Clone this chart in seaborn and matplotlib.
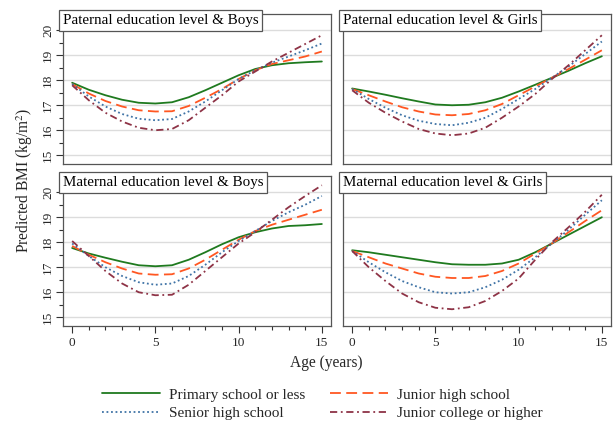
import numpy as np
import pandas as pd
import matplotlib
matplotlib.use("Agg")
import matplotlib.pyplot as plt
import seaborn as sns

# Edades 0-15 y niveles educativos
ages = list(range(16))
levels = ["Primary school or less", "Junior high school",
          "Senior high school", "Junior college or higher"]
panels = ["Paternal education level & Boys", "Paternal education level & Girls",
          "Maternal education level & Boys", "Maternal education level & Girls"]

# Valores (BMI predicho)
pat_boys = {
    "Primary school or less": [17.9, 17.62, 17.4, 17.22, 17.1, 17.07, 17.12, 17.32, 17.6, 17.9, 18.2, 18.45, 18.6, 18.68, 18.72, 18.75],
    "Junior high school": [17.85, 17.47, 17.17, 16.95, 16.8, 16.75, 16.76, 16.97, 17.3, 17.65, 18.05, 18.4, 18.65, 18.8, 18.95, 19.15],
    "Senior high school": [17.85, 17.35, 16.95, 16.65, 16.46, 16.4, 16.45, 16.75, 17.15, 17.6, 18.05, 18.4, 18.7, 18.95, 19.2, 19.47],
    "Junior college or higher": [17.8, 17.2, 16.7, 16.35, 16.1, 16.0, 16.05, 16.4, 16.9, 17.4, 17.95, 18.35, 18.75, 19.1, 19.45, 19.8],
}
pat_girls = {
    "Primary school or less": [17.67, 17.55, 17.42, 17.28, 17.15, 17.03, 17.0, 17.02, 17.12, 17.3, 17.55, 17.82, 18.1, 18.38, 18.68, 18.96],
    "Junior high school": [17.65, 17.4, 17.15, 16.92, 16.75, 16.63, 16.6, 16.65, 16.8, 17.05, 17.4, 17.75, 18.1, 18.45, 18.82, 19.2],
    "Senior high school": [17.65, 17.25, 16.9, 16.6, 16.38, 16.25, 16.2, 16.3, 16.5, 16.85, 17.25, 17.65, 18.1, 18.55, 19.05, 19.55],
    "Junior college or higher": [17.6, 17.1, 16.7, 16.35, 16.05, 15.87, 15.8, 15.87, 16.1, 16.5, 16.95, 17.45, 18.05, 18.6, 19.2, 19.8],
}
mat_boys = {
    "Primary school or less": [17.77, 17.55, 17.38, 17.22, 17.08, 17.04, 17.08, 17.3, 17.6, 17.92, 18.2, 18.4, 18.55, 18.65, 18.68, 18.73],
    "Junior high school": [17.85, 17.5, 17.2, 16.95, 16.75, 16.7, 16.72, 16.95, 17.3, 17.7, 18.1, 18.45, 18.7, 18.9, 19.1, 19.3],
    "Senior high school": [17.95, 17.45, 17.0, 16.65, 16.4, 16.3, 16.35, 16.65, 17.1, 17.6, 18.05, 18.45, 18.85, 19.2, 19.5, 19.85],
    "Junior college or higher": [18.05, 17.45, 16.85, 16.35, 16.0, 15.88, 15.9, 16.3, 16.85, 17.4, 17.95, 18.4, 18.9, 19.4, 19.85, 20.28],
}
mat_girls = {
    "Primary school or less": [17.68, 17.6, 17.5, 17.4, 17.3, 17.2, 17.12, 17.1, 17.1, 17.15, 17.3, 17.6, 17.95, 18.3, 18.65, 19.0],
    "Junior high school": [17.65, 17.4, 17.15, 16.95, 16.75, 16.62, 16.57, 16.57, 16.65, 16.85, 17.15, 17.55, 17.95, 18.4, 18.85, 19.28],
    "Senior high school": [17.65, 17.2, 16.8, 16.45, 16.2, 16.0, 15.95, 16.0, 16.2, 16.5, 16.9, 17.4, 17.95, 18.5, 19.1, 19.68],
    "Junior college or higher": [17.65, 17.0, 16.45, 15.95, 15.6, 15.38, 15.32, 15.4, 15.65, 16.05, 16.55, 17.3, 18.0, 18.6, 19.22, 19.9],
}
panel_data = [pat_boys, pat_girls, mat_boys, mat_girls]

palette = {
    "Primary school or less": "#1f7a1f",
    "Junior high school": "#ff5722",
    "Senior high school": "#3f73a6",
    "Junior college or higher": "#8e3346",
}
dashes = {
    "Primary school or less": "",
    "Junior high school": (6, 3),
    "Senior high school": (1, 1.5),
    "Junior college or higher": (4, 2, 1, 2),
}

sns.set_theme(style="white")
plt.rcParams["font.family"] = ["Liberation Serif", "DejaVu Serif"]
plt.rcParams["mathtext.fontset"] = "stix"

fig = plt.figure(figsize=(6.14, 4.24), dpi=100)
W, H = 614, 424
boxes = [(63, 14), (343, 14), (63, 176), (343, 176)]
axes = []
for i, (px, py) in enumerate(boxes):
    ax = fig.add_axes([px / W, 1 - (py + 150) / H, 268 / W, 150 / H])
    rows = []
    for lev in levels:
        for a, v in zip(ages, panel_data[i][lev]):
            rows.append({"age": a, "bmi": v, "level": lev})
    df = pd.DataFrame(rows)
    sns.lineplot(data=df, x="age", y="bmi", hue="level", style="level",
                 hue_order=levels, style_order=levels, palette=palette,
                 dashes=dashes, linewidth=1.3, legend=False, ax=ax)
    ax.set_xlim(-0.55, 15.55)
    ax.set_ylim(14.65, 20.65)
    ax.set_xticks([0, 5, 10, 15])
    ax.set_xticks(range(16), minor=True)
    ax.set_yticks([15, 16, 17, 18, 19, 20])
    ax.set_yticks(np.arange(15, 20.6, 0.5), minor=True)
    ax.grid(axis="y", which="major", color="#dcdcdc", linewidth=1.0)
    ax.set_axisbelow(True)
    ax.set_xlabel("")
    ax.set_ylabel("")
    for s in ax.spines.values():
        s.set_color("#555555")
        s.set_linewidth(0.9)
    ax.tick_params(which="both", direction="out", color="#333333", width=0.8)
    ax.tick_params(which="major", length=5, labelsize=9.5)
    ax.tick_params(which="minor", length=3)
    ax.tick_params(axis="x", which="major", pad=3)
    ax.tick_params(axis="y", which="major", pad=1.5)
    ax.tick_params(axis="x", which="both", bottom=True)
    ax.tick_params(axis="y", which="both", left=True)
    if i in (0, 2):
        for lab in ax.get_yticklabels():
            lab.set_rotation(90)
            lab.set_va("center")
    else:
        ax.tick_params(axis="y", which="both", left=False, labelleft=False)
    if i in (0, 1):
        ax.tick_params(axis="x", which="both", bottom=False, labelbottom=False)
    ax.text(0.0, 1.0, panels[i], transform=ax.transAxes, ha="left", va="top",
            fontsize=10.8, color="black",
            bbox=dict(boxstyle="square,pad=0.25", facecolor="white",
                      edgecolor="#555555", linewidth=0.9))
    axes.append(ax)

fig.text(326 / W, 1 - 363 / H, "Age (years)", ha="center", va="center", fontsize=11.2)
fig.text(25 / W, 1 - 180 / H, "Predicted BMI (kg/m$^2$)", ha="center", va="center",
         rotation=90, fontsize=11.2)

# orden por filas como en la figura original
lines = axes[0].get_lines()[:4]
order = [0, 2, 1, 3]
fig.legend([lines[k] for k in order], [levels[k] for k in order],
           loc="center", ncol=2, frameon=False,
           bbox_to_anchor=(322 / W, 1 - 404 / H), fontsize=11,
           handlelength=3.8, handletextpad=0.6, columnspacing=1.6, labelspacing=0.3)

plt.savefig("out.png", dpi=100)
